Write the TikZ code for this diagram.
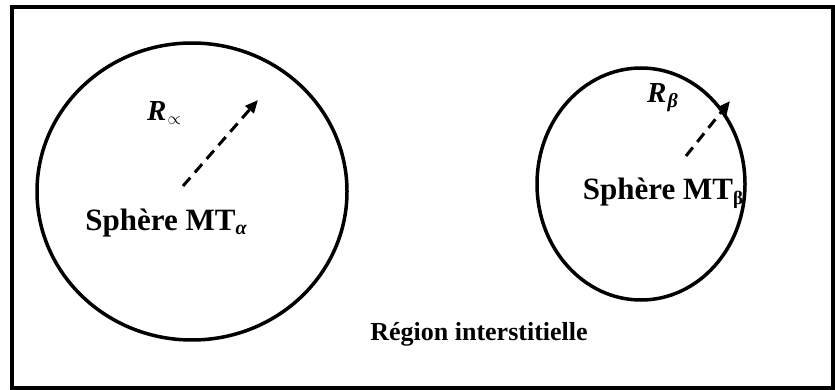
\documentclass[tikz,border=0pt]{standalone}
\usepackage{fontspec}
\setmainfont{Liberation Serif}
\usetikzlibrary{arrows.meta}
\tikzset{
  frame/.style={draw=black, line width=4pt},
  sphere/.style={draw=black, line width=3.5pt},
  radius arrow/.style={line width=3pt, dash pattern=on 11pt off 7pt, -{Triangle[length=13pt,width=11pt]}},
  lbl/.style={font=\bfseries\fontsize{31}{34}\selectfont, inner sep=0pt, anchor=base},
  rlbl/.style={font=\bfseries\itshape\fontsize{29}{32}\selectfont, inner sep=0pt, anchor=base west}
}
\begin{document}
\begin{tikzpicture}[x=1pt,y=-1pt]
\useasboundingbox (0,0) rectangle (835,390);
\draw[frame] (12,7.5) rectangle (833,387.5);
\draw[sphere] (192,191.5) ellipse [x radius=155, y radius=148.5];
\draw[sphere] (641,184) ellipse [x radius=104, y radius=116];
\coordinate (ca) at (183,186);
\coordinate (ta) at (258,100);
\coordinate (cb) at (686,156);
\coordinate (tb) at (730,101);
\draw[radius arrow] (ca) -- (ta);
\draw[radius arrow] (cb) -- (tb);
\node[rlbl] (ra) at (147,121) {R\kern1pt\raisebox{-0.25ex}{\fontsize{18}{20}\selectfont$\propto$}};
\node[rlbl] (rb) at (647,103) {R\kern1pt\raisebox{-0.35ex}{\fontsize{20}{22}\selectfont β}};
\node[lbl] (sa) at (166,230) {Sphère MT\raisebox{-0.3ex}{\fontsize{20}{22}\selectfont\itshape α}};
\node[lbl] (sb) at (663,200) {Sphère MT\raisebox{-0.3ex}{\fontsize{19}{22}\selectfont β}};
\node[lbl, font=\bfseries\fontsize{26}{30}\selectfont] (ri) at (479,340) {Région interstitielle};
\end{tikzpicture}
\end{document}
